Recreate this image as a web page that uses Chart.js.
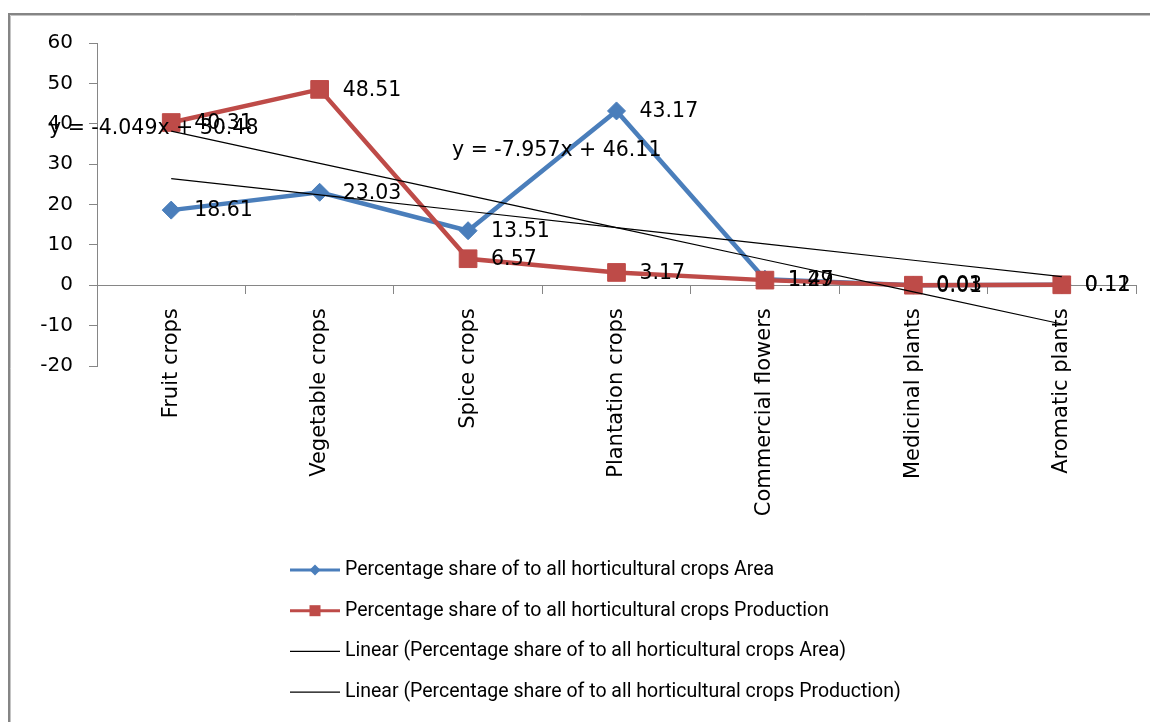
<!DOCTYPE html>
<html>
<head>
<meta charset="utf-8">
<script src="https://cdn.jsdelivr.net/npm/chart.js@4.4.1/dist/chart.umd.min.js"></script>
<style>
  html, body { margin: 0; padding: 0; background: #fff; }
  canvas { display: block; }
</style>
</head>
<body>
<canvas id="chart" width="1150" height="722"></canvas>
<script>
// Horticultural crop groups and their percentage shares
const categories = ['Fruit crops', 'Vegetable crops', 'Spice crops', 'Plantation crops',
                    'Commercial flowers', 'Medicinal plants', 'Aromatic plants'];
const areaShare = [18.61, 23.03, 13.51, 43.17, 1.49, 0.03, 0.12];
const productionShare = [40.31, 48.51, 6.57, 3.17, 1.27, 0.01, 0.11];

// Linear trendline coefficients (y = slope * x + intercept, x = 1..7)
const areaTrend = { slope: -4.049, intercept: 30.48 };
const productionTrend = { slope: -7.957, intercept: 46.11 };

// Value axis range
const yMin = -20;
const yMax = 60;
const yStep = 10;

const seriesNames = [
  'Percentage share of to all horticultural crops Area',
  'Percentage share of to all horticultural crops Production',
  'Linear (Percentage share of to all horticultural crops Area)',
  'Linear (Percentage share of to all horticultural crops Production)'
];

const BLUE = '#4a7ebb';
const RED = '#be4b48';
const AXIS = '#868686';
const NUM_FONT = '"DejaVu Sans", sans-serif';

const trendValues = t => categories.map((_, i) => t.slope * (i + 1) + t.intercept);
const equationText = t => `y = ${t.slope}x + ${t.intercept}`;

// White background and the outer chart frame
const framePlugin = {
  id: 'frame',
  beforeDraw(chart) {
    const { ctx, width, height } = chart;
    ctx.save();
    ctx.fillStyle = '#fff';
    ctx.fillRect(0, 0, width, height);
    ctx.strokeStyle = '#858585';
    ctx.lineWidth = 2;
    ctx.beginPath();
    ctx.moveTo(9, height);
    ctx.lineTo(9, 14);
    ctx.lineTo(width, 14);
    ctx.stroke();
    ctx.strokeStyle = '#c4c4c4';
    ctx.lineWidth = 1;
    ctx.beginPath();
    ctx.moveTo(10.5, height);
    ctx.lineTo(10.5, 15.5);
    ctx.lineTo(width, 15.5);
    ctx.stroke();
    ctx.restore();
  }
};

// Value labels beside each marker, plus the trendline equations
const labelPlugin = {
  id: 'valueLabels',
  afterDatasetsDraw(chart) {
    const ctx = chart.ctx;
    ctx.save();
    ctx.fillStyle = '#000';
    ctx.textAlign = 'left';
    ctx.textBaseline = 'middle';
    ctx.font = `20.5px ${NUM_FONT}`;
    chart.data.datasets.forEach((ds, di) => {
      if (!ds.showValues) return;
      const meta = chart.getDatasetMeta(di);
      meta.data.forEach((pt, i) => {
        ctx.fillText(ds.data[i].toFixed(2), pt.x + 23, pt.y + 1);
      });
    });
    const eq = chart.options.plugins.valueLabels.equations;
    eq.forEach(e => ctx.fillText(e.text, e.x, e.y));
    ctx.restore();
  }
};

// Vertical legend list under the plot
const legendPlugin = {
  id: 'listLegend',
  afterDraw(chart) {
    const ctx = chart.ctx;
    const o = chart.options.plugins.listLegend;
    ctx.save();
    ctx.font = o.font;
    ctx.textBaseline = 'middle';
    ctx.textAlign = 'left';
    chart.data.datasets.forEach((ds, i) => {
      const y = o.top + i * o.rowGap;
      ctx.strokeStyle = ds.borderColor;
      ctx.lineWidth = ds.showValues ? 3 : 1.3;
      ctx.beginPath();
      ctx.moveTo(o.left, y);
      ctx.lineTo(o.left + o.sample, y);
      ctx.stroke();
      const cx = o.left + o.sample / 2;
      ctx.fillStyle = ds.borderColor;
      if (ds.pointStyle === 'rectRot') {
        ctx.beginPath();
        ctx.moveTo(cx, y - 5.5);
        ctx.lineTo(cx + 5.5, y);
        ctx.lineTo(cx, y + 5.5);
        ctx.lineTo(cx - 5.5, y);
        ctx.closePath();
        ctx.fill();
      } else if (ds.pointStyle === 'rect') {
        ctx.fillRect(cx - 5.5, y - 5.5, 11, 11);
      }
      ctx.fillStyle = '#000';
      ctx.fillText(ds.label, o.left + o.sample + 5, y);
    });
    ctx.restore();
  }
};

new Chart(document.getElementById('chart'), {
  type: 'line',
  data: {
    labels: categories,
    datasets: [
      {
        label: seriesNames[0],
        data: areaShare,
        borderColor: BLUE,
        backgroundColor: BLUE,
        borderWidth: 4.5,
        pointStyle: 'rectRot',
        pointRadius: 9,
        pointBorderWidth: 1,
        tension: 0,
        order: 3,
        showValues: true
      },
      {
        label: seriesNames[1],
        data: productionShare,
        borderColor: RED,
        backgroundColor: RED,
        borderWidth: 4.5,
        pointStyle: 'rect',
        pointRadius: 12.5,
        pointBorderWidth: 1,
        tension: 0,
        order: 2,
        showValues: true
      },
      {
        label: seriesNames[2],
        data: trendValues(areaTrend),
        borderColor: '#000',
        borderWidth: 1.2,
        pointRadius: 0,
        tension: 0,
        order: 1
      },
      {
        label: seriesNames[3],
        data: trendValues(productionTrend),
        borderColor: '#000',
        borderWidth: 1.2,
        pointRadius: 0,
        tension: 0,
        order: 0
      }
    ]
  },
  options: {
    responsive: false,
    animation: false,
    devicePixelRatio: 1,
    events: [],
    layout: { padding: { left: 0, top: 43, right: 14, bottom: 356 } },
    plugins: {
      legend: { display: false },
      tooltip: { enabled: false },
      valueLabels: {
        equations: [
          { text: equationText(areaTrend), x: 49, y: 129 },
          { text: equationText(productionTrend), x: 452, y: 151 }
        ]
      },
      listLegend: {
        left: 290, top: 570, rowGap: 40.7, sample: 50,
        font: '19.5px Roboto, sans-serif'
      }
    },
    scales: {
      x: {
        type: 'category',
        offset: true,
        position: { y: 0 },
        border: { display: true, color: AXIS, width: 1 },
        grid: {
          display: true, offset: true, drawOnChartArea: false,
          drawTicks: true, tickLength: 8, color: AXIS
        },
        ticks: {
          autoSkip: false, minRotation: 90, maxRotation: 90, padding: 15,
          color: '#000', font: { family: NUM_FONT, size: 21 }
        }
      },
      y: {
        min: yMin,
        max: yMax,
        afterFit(scale) { scale.width = 97; },
        border: { display: true, color: AXIS, width: 1 },
        grid: {
          display: true, drawOnChartArea: false,
          drawTicks: true, tickLength: 8, color: AXIS
        },
        ticks: {
          stepSize: yStep, padding: 16,
          color: '#000', font: { family: NUM_FONT, size: 20 }
        }
      }
    }
  },
  plugins: [framePlugin, labelPlugin, legendPlugin]
});
</script>
</body>
</html>
